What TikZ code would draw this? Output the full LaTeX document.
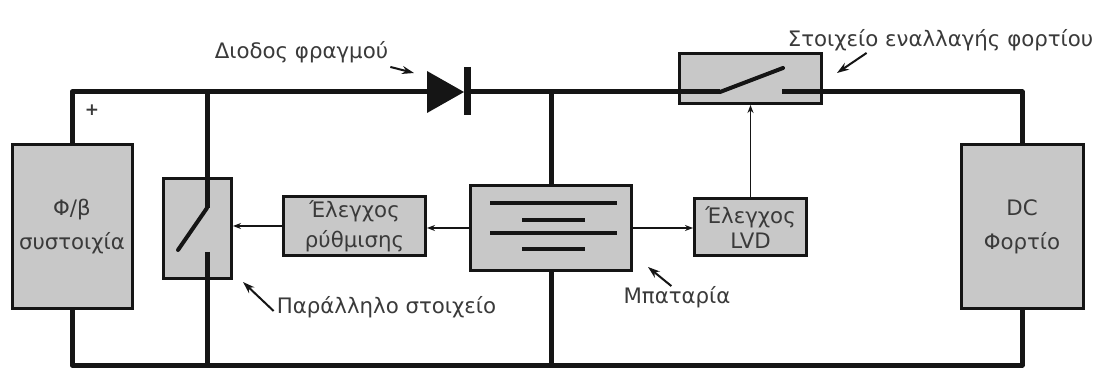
\documentclass[tikz,border=0pt]{standalone}
\usepackage{fontspec}
\setmainfont{DejaVu Sans}
\usetikzlibrary{arrows.meta}
\definecolor{boxgray}{HTML}{C8C8C8}
\definecolor{txt}{HTML}{3A3A3A}
\definecolor{ink}{HTML}{151515}
\begin{document}
\begin{tikzpicture}[x=1pt,y=-1pt,
  box/.style={draw=ink, line width=3pt, fill=boxgray, inner sep=0pt, align=center, text=txt, font=\fontsize{21.3}{34}\selectfont},
  wire/.style={draw=ink, line width=5pt, line join=round},
  blade/.style={draw=ink, line width=4pt, line cap=round},
  plate/.style={draw=ink, line width=4.5pt},
  sig/.style={draw=ink, line width=1.5pt, -{Stealth[length=8pt,width=6pt]}},
  lbl/.style={text=txt, inner sep=0pt, font=\fontsize{21.3}{24}\selectfont},
  callout/.style={draw=ink, line width=2pt, -{Stealth[length=12pt,width=8pt]}}]
\useasboundingbox (0,0) rectangle (1105,371);
\fill[white] (0,0) rectangle (1105,371);

% boxes
\node[box, minimum width=120pt, minimum height=164pt] (pv) at (72,226.5) {Φ/β\\συστοιχία};
\node[box, minimum width=68pt, minimum height=100pt] (ps) at (197.5,228.5) {};
\node[box, minimum width=142pt, minimum height=59pt] (reg) at (354.5,226) {Έλεγχος\\[-4pt]ρύθμισης};
\node[box, minimum width=161pt, minimum height=85pt] (bat) at (551,228) {};
\node[box, minimum width=112pt, minimum height=57pt] (lvd) at (750.5,227) {Έλεγχος\\[-9pt]LVD};
\node[box, minimum width=142pt, minimum height=50pt] (ls) at (750.5,78.5) {};
\node[box, minimum width=122pt, minimum height=164pt] (dc) at (1022,226.5) {DC\\Φορτίο};

% key coordinates
\coordinate (top) at (0,92);
\coordinate (bot) at (0,365);
\coordinate (dA) at (427,92);
\coordinate (dK) at (467,92);
\coordinate (jP) at (207,92);
\coordinate (swL) at (720,92);
\coordinate (swT) at (783,68);
\coordinate (swR) at (782,92);
\coordinate (psA) at (207,208);
\coordinate (psT) at (178,250);
\coordinate (psB) at (207,252);

% wires
\draw[wire] (pv.north) |- (dA);
\draw[wire] (dK) -- (swL);
\draw[blade] (swL) -- (swT);
\draw[wire] (swR) -| (dc.north);
\draw[wire] (pv.south) |- (bot -| dc.south) -- (dc.south);
\draw[wire] (jP) -- (psA);
\draw[blade] (psA) -- (psT);
\draw[wire] (psB) -- (psB |- bot);
\draw[wire] (bat.north |- top) -- (bat.north);
\draw[wire] (bat.south) -- (bat.south |- bot);

% diode
\fill[ink] (427,71) -- (464,92) -- (427,113) -- cycle;
\draw[ink, line width=7pt] (467,67) -- (467,115);

% battery plates
\draw[plate] (490,203) -- (617,203);
\draw[plate] (522,220) -- (585,220);
\draw[plate] (490,233) -- (617,233);
\draw[plate] (522,249) -- (585,249);

% signal arrows
\draw[sig] (bat.west) -- (bat.west -| reg.east);
\draw[sig] (reg.west) -- (reg.west -| ps.east);
\draw[sig] (bat.east) -- (bat.east -| lvd.west);
\draw[sig] (lvd.north) -- (lvd.north |- ls.south);

% plus sign
\node[lbl, font=\fontsize{17}{18}\selectfont\bfseries] (plus) at (92,110) {+};

% labels
\node[lbl] (ld) at (301.5,52) {Διοδος φραγμού};
\node[lbl] (ll) at (940.5,40) {Στοιχείο εναλλαγής φορτίου};
\node[lbl] (lp) at (386.5,307) {Παράλληλο στοιχείο};
\node[lbl] (lb) at (677,297) {Μπαταρία};

\coordinate (dtip) at (414,73);
\coordinate (lstip) at (837,73);
\coordinate (pstip) at (243,282);
\coordinate (btip) at (648,267);
\draw[callout] ([xshift=2pt,yshift=-4pt]ld.south east) -- (dtip);
\draw[callout] ([xshift=79pt,yshift=-2pt]ll.south west) -- (lstip);
\draw[callout] ([xshift=-3pt,yshift=-4pt]lp.west) -- (pstip);
\draw[callout] ([xshift=48pt]lb.north west) -- (btip);
\end{tikzpicture}
\end{document}
